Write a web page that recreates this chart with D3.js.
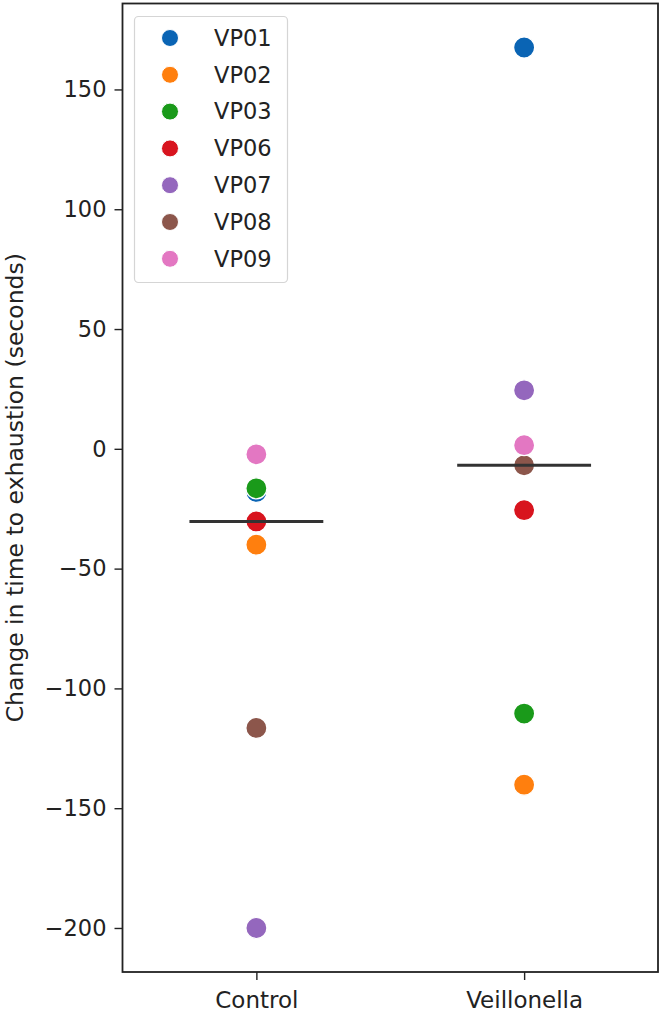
<!DOCTYPE html>
<html>
<head>
<meta charset="utf-8">
<script src="https://cdn.jsdelivr.net/npm/d3@7"></script>
<style>
  html, body { margin: 0; padding: 0; background: #fff; }
  svg { display: block; }
</style>
</head>
<body>
<div id="chart"></div>
<script>
// ---- data ----
const groups = ["Control", "Veillonella"];
const participants = ["VP01", "VP02", "VP03", "VP06", "VP07", "VP08", "VP09"];
const controlValues = [-18, -40, -16.5, -30.3, -200, -116.5, -2.3];
const veillonellaValues = [167.5, -140.2, -110.5, -25.6, 24.4, -6.9, 1.5];
const colors = ["#0a64b4", "#ff7f0e", "#1a9a1a", "#d8141e", "#9467bd", "#8c564b", "#e377c2"];
const yTicks = [-200, -150, -100, -50, 0, 50, 100, 150];
const yLabel = "Change in time to exhaustion (seconds)";

const seriesByGroup = [controlValues, veillonellaValues];

// ---- layout ----
const W = 664, H = 1018;
const margin = { left: 122.5, right: 6, top: 3.5, bottom: 46 };
const FONT = "DejaVu Sans";

const svg = d3.select("#chart").append("svg")
  .attr("width", W).attr("height", H);

const allVals = controlValues.concat(veillonellaValues);
const yMin = d3.min(allVals), yMax = d3.max(allVals);
const pad = (yMax - yMin) * 0.05;

const y = d3.scaleLinear()
  .domain([yMin - pad, yMax + pad])
  .range([H - margin.bottom, margin.top]);

const x = d3.scalePoint()
  .domain(groups)
  .range([margin.left, W - margin.right])
  .padding(0.5);

// axes
const yAxis = d3.axisLeft(y).tickValues(yTicks)
  .tickFormat(d => d < 0 ? "\u2212" + Math.abs(d) : d)
  .tickSize(8).tickPadding(8);
const gy = svg.append("g").attr("transform", `translate(${margin.left},0)`).call(yAxis);
gy.select(".domain").remove();
gy.selectAll("line").attr("stroke", "#222").attr("stroke-width", 1.4);
gy.selectAll("text").attr("font-family", FONT).attr("font-size", 22.5).attr("fill", "#222");

const xAxis = d3.axisBottom(x).tickSize(8).tickPadding(12);
const gx = svg.append("g").attr("transform", `translate(0,${H - margin.bottom})`).call(xAxis);
gx.select(".domain").remove();
gx.selectAll("line").attr("stroke", "#222").attr("stroke-width", 1.4);
gx.selectAll("text").attr("font-family", FONT).attr("font-size", 23).attr("fill", "#222");

// frame
svg.append("rect")
  .attr("x", margin.left).attr("y", margin.top)
  .attr("width", W - margin.right - margin.left)
  .attr("height", H - margin.bottom - margin.top)
  .attr("fill", "none").attr("stroke", "#222").attr("stroke-width", 1.8);

// y label
svg.append("text")
  .attr("transform", `translate(23,${(margin.top + H - margin.bottom) / 2}) rotate(-90)`)
  .attr("text-anchor", "middle")
  .attr("font-family", FONT).attr("font-size", 23.5).attr("fill", "#222")
  .text(yLabel);

// points
const pts = [];
groups.forEach((g, gi) => {
  participants.forEach((p, pi) => {
    pts.push({ group: g, p: p, v: seriesByGroup[gi][pi], c: colors[pi] });
  });
});
svg.append("g").selectAll("circle").data(pts).join("circle")
  .attr("cx", d => x(d.group))
  .attr("cy", d => y(d.v))
  .attr("r", 10.5)
  .attr("fill", d => d.c)
  .attr("stroke", "#fff").attr("stroke-width", 1.2);

// median lines
const halfW = 0.25 * x.step();
groups.forEach((g, gi) => {
  const m = d3.median(seriesByGroup[gi]);
  svg.append("line")
    .attr("x1", x(g) - halfW).attr("x2", x(g) + halfW)
    .attr("y1", y(m)).attr("y2", y(m))
    .attr("stroke", "#333").attr("stroke-width", 3);
});

// legend
const lg = svg.append("g");
lg.append("rect")
  .attr("x", 134.5).attr("y", 16.5).attr("width", 153).attr("height", 266)
  .attr("rx", 4).attr("fill", "#fff").attr("fill-opacity", 0.8)
  .attr("stroke", "#d5d5d5").attr("stroke-width", 1.2);
participants.forEach((p, i) => {
  const cy = 38 + i * 36.8;
  lg.append("circle").attr("cx", 170).attr("cy", cy).attr("r", 8.5)
    .attr("fill", colors[i]).attr("stroke", "#fff").attr("stroke-width", 1);
  lg.append("text").attr("x", 214).attr("y", cy).attr("dy", "0.35em")
    .attr("font-family", FONT).attr("font-size", 22.5).attr("fill", "#222")
    .text(p);
});
</script>
</body>
</html>
